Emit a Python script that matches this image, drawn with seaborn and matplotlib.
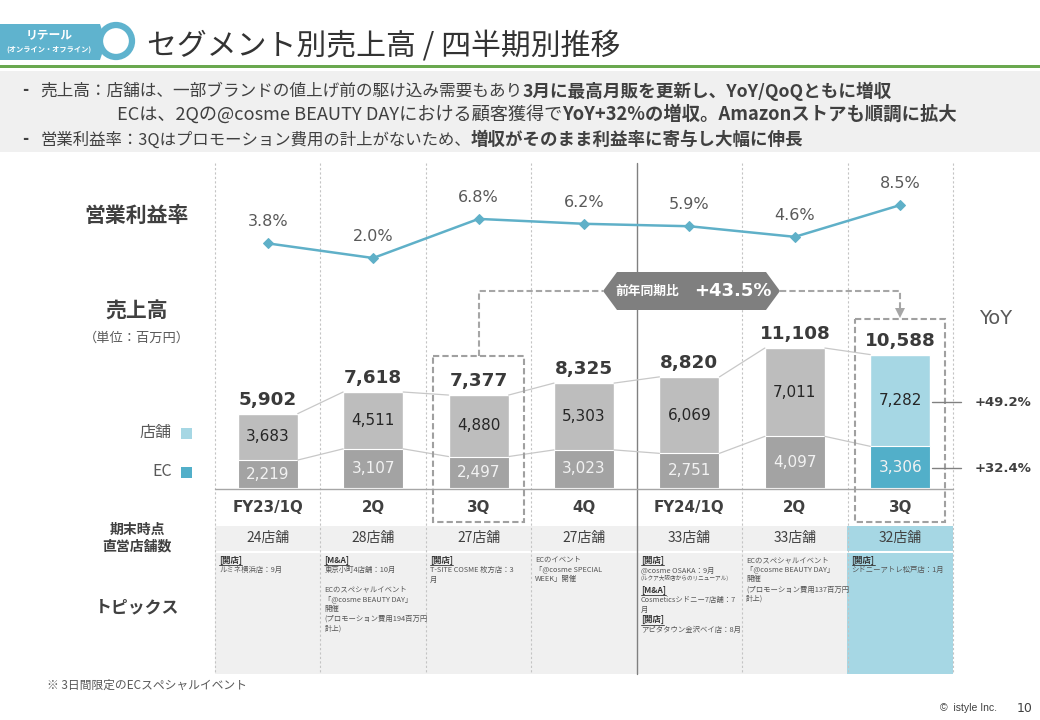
import matplotlib
matplotlib.use("Agg")
import matplotlib.pyplot as plt
import numpy as np
import pandas as pd
import seaborn as sns
from matplotlib.patches import Circle, Polygon, Rectangle

W, H = 1040, 720
JP = ["Noto Sans CJK JP", "DejaVu Sans"]
NUM = ["DejaVu Sans", "Noto Sans CJK JP"]

periods = ["FY23/1Q", "2Q", "3Q", "4Q", "FY24/1Q", "2Q", "3Q"]
store_sales = [3683, 4511, 4880, 5303, 6069, 7011, 7282]
ec_sales = [2219, 3107, 2497, 3023, 2751, 4097, 3306]
total_sales = [5902, 7618, 7377, 8325, 8820, 11108, 10588]
op_margin = [3.8, 2.0, 6.8, 6.2, 5.9, 4.6, 8.5]
store_counts = [24, 28, 27, 27, 33, 33, 32]
yoy_labels = ["+49.2%", "+32.4%"]

store_colors = ["#bdbdbd"] * 6 + ["#a6d7e4"]
ec_colors = ["#a3a3a3"] * 6 + ["#52afc9"]
LINE_BLUE = "#5fb0c8"
TEXT = "#404040"

# [H] = 下線つき見出し、[S] = 小さい注記
topics = [
    ["[H][開店]", "ルミネ横浜店：9月"],
    ["[H][M&A]", "東京小町4店舗：10月", "", "ECのスペシャルイベント", "「@cosme BEAUTY DAY」", "開催",
     "(プロモーション費用194百万円", "計上)"],
    ["[H][開店]", "T-SITE COSME 枚方店：3", "月"],
    ["ECのイベント", "「@cosme SPECIAL", "WEEK」開催"],
    ["[H][開店]", "@cosme OSAKA：9月", "[S](ルクア大阪店からのリニューアル)", "[H][M&A]", "Cosmeticsシドニー7店舗：7", "月",
     "[H][開店]", "アピタタウン金沢ベイ店：8月"],
    ["ECのスペシャルイベント", "「@cosme BEAUTY DAY」", "開催", "(プロモーション費用137百万円", "計上)"],
    ["[H][開店]", "シドニーアトレ松戸店：1月"],
]

summary_lines = [
    (40, 91, 12.0, 12.7, "売上高：店舗は、一部ブランドの値上げ前の駆け込み需要もあり", "3月に最高月販を更新し、YoY/QoQともに増収"),
    (117, 114, 13.1, 13.2, "ECは、2Qの@cosme BEAUTY DAYにおける顧客獲得で", "YoY+32%の増収。Amazonストアも順調に拡大"),
    (40, 140, 11.8, 12.6, "営業利益率：3Qはプロモーション費用の計上がないため、", "増収がそのまま利益率に寄与し大幅に伸長"),
]

sns.set_theme(style="white")
plt.rcParams["font.family"] = JP

col_edges = np.linspace(215, 953, 8)


def px_axes(fig, left, top, right, bottom, zorder):
    ax = fig.add_axes([left / W, 1 - bottom / H, (right - left) / W, (bottom - top) / H], zorder=zorder)
    ax.patch.set_alpha(0)
    return ax


def seq_text(ax, x, y, parts, color=TEXT):
    # 通常と太字を続けて並べる
    r = ax.figure.canvas.get_renderer()
    for s, weight, size in parts:
        t = ax.text(x, y, s, fontsize=size, fontweight=weight, color=color, va="center", ha="left", family=JP)
        x = ax.transData.inverted().transform(t.get_window_extent(r).get_points())[1][0]
    return x


fig = plt.figure(figsize=(W / 100, H / 100), dpi=100, facecolor="white")

# 背景とレイアウト用(ピクセル座標)
bg = px_axes(fig, 0, 0, W, H, 0)
bg.set_xlim(0, W)
bg.set_ylim(H, 0)
bg.axis("off")

bg.add_patch(Rectangle((0, 65), W, 3, color="#6aa84f", lw=0))
bg.add_patch(Rectangle((0, 71), W, 81, color="#f0f0f0", lw=0))
bg.add_patch(Polygon([(0, 24), (100, 24), (106, 42), (100, 60), (0, 60)], color="#5fb3ce", lw=0))
bg.add_patch(Circle((116, 41), 16, facecolor="white", edgecolor="#5fb3ce", lw=4.5))
bg.text(49, 35, "リテール", color="white", fontsize=8.5, fontweight="bold", ha="center", va="center")
bg.text(49, 49, "(オンライン・オフライン)", color="white", fontsize=5.2, fontweight="bold", ha="center", va="center")
bg.text(147, 46, "セグメント別売上高 / 四半期別推移", fontsize=21.5, color="#333333", va="center", ha="left")

for x, y, size_r, size_b, regular, bold in summary_lines:
    seq_text(bg, x, y, [(regular, "normal", size_r), (bold, "bold", size_b)])
bg.text(22, 90, "-", fontsize=12, fontweight="bold", color=TEXT, va="center")
bg.text(22, 139, "-", fontsize=12, fontweight="bold", color=TEXT, va="center")

# 店舗数の帯とトピックス欄
bg.add_patch(Rectangle((215, 526), 632, 25, color="#f0f0f0", lw=0))
bg.add_patch(Rectangle((215, 553), 632, 121, color="#f0f0f0", lw=0))
bg.add_patch(Rectangle((847, 526), 106, 25, color="#a6d7e4", lw=0))
bg.add_patch(Rectangle((847, 553), 106, 121, color="#a6d7e4", lw=0))

for i, x in enumerate(col_edges):
    if i == 4:
        bg.plot([x, x], [163, 674], color="#808080", lw=1)
    else:
        bg.plot([x, x], [163, 674], color="#c4c4c4", lw=0.8, ls=(0, (2, 2)))
bg.plot([215, 953], [489, 489], color="#a6a6a6", lw=1)

for i, count in enumerate(store_counts):
    cx = (col_edges[i] + col_edges[i + 1]) / 2
    bg.text(cx, 538, f"{count}店舗", fontsize=10, color=TEXT, ha="center", va="center")
    bg.text(cx, 508, periods[i], fontsize=10.8, fontweight="bold", color=TEXT, ha="center", va="center", family=NUM)

r = fig.canvas.get_renderer()
for i, lines in enumerate(topics):
    x = col_edges[i] + 4
    y = 560
    for line in lines:
        if line.startswith("[H]"):
            t = bg.text(x, y, line[3:], fontsize=6, fontweight="bold", color="#333333", va="center")
            w = t.get_window_extent(r).width
            bg.plot([x, x + w], [y + 5, y + 5], color="#333333", lw=0.6)
            y += 10
        elif line.startswith("[S]"):
            bg.text(x, y - 1.5, line[3:], fontsize=4.1, color="#555555", va="center")
            y += 10.5
        else:
            bg.text(x, y, line, fontsize=5.3, color="#555555", va="center")
            y += 9.7

# 左側の見出し
bg.text(137, 215, "営業利益率", fontsize=15, fontweight="bold", color=TEXT, ha="center", va="center")
bg.text(137, 311, "売上高", fontsize=15, fontweight="bold", color=TEXT, ha="center", va="center")
bg.text(137, 338, "（単位：百万円）", fontsize=9.5, color="#595959", ha="center", va="center")
bg.text(172, 433, "店舗", fontsize=11.5, color="#595959", ha="right", va="center")
bg.text(172, 472, "EC", fontsize=11.5, color="#595959", ha="right", va="center")
bg.add_patch(Rectangle((181, 428), 11, 11, color="#a6d7e4", lw=0))
bg.add_patch(Rectangle((181, 467), 11, 11, color="#52afc9", lw=0))
bg.text(137, 530, "期末時点", fontsize=10, fontweight="bold", color=TEXT, ha="center", va="center")
bg.text(137, 547, "直営店舗数", fontsize=10, fontweight="bold", color=TEXT, ha="center", va="center")
bg.text(137, 607, "トピックス", fontsize=12.2, fontweight="bold", color=TEXT, ha="center", va="center")
bg.text(47, 685, "※ 3日間限定のECスペシャルイベント", fontsize=8.5, color="#595959", va="center")
bg.text(940, 708, "©  istyle Inc.", fontsize=7.5, color="#404040", va="center", family=["Liberation Sans"])
bg.text(1017, 709, "10", fontsize=9, color="#404040", va="center", family=NUM)

# 積み上げ棒(合計の棒の手前にECを重ねる)
df = pd.DataFrame({"pos": range(len(periods)), "store": store_sales, "ec": ec_sales, "total": total_sales})
BAR_W = 0.57
ax = px_axes(fig, 215, 163, 953, 488, 1)
sns.barplot(data=df, x="pos", y="total", hue="pos", palette=store_colors, legend=False, width=BAR_W,
            dodge=False, saturation=1, ax=ax)
sns.barplot(data=df, x="pos", y="ec", hue="pos", palette=ec_colors, legend=False, width=BAR_W,
            dodge=False, saturation=1, edgecolor="white", linewidth=0.8, ax=ax)
ax.set_xlim(-0.5, 6.5)
ax.set_ylim(0, 325 / 0.0126)
ax.axis("off")

for i in range(len(df) - 1):
    for col in ["ec", "total"]:
        ax.plot([i + BAR_W / 2, i + 1 - BAR_W / 2], [df[col][i], df[col][i + 1]], color="#c8c8c8", lw=0.9)

for i, row in df.iterrows():
    ax.annotate(f"{row.total:,}", (i, row.total), xytext=(0, 10), textcoords="offset points",
                ha="center", va="center", fontsize=13.2, fontweight="bold", color="#3a3a3a", family=NUM)
    ax.text(i, row.ec + row.store / 2, f"{row.store:,}", ha="center", va="center", fontsize=11,
            color="#262626", family=NUM)
    ax.text(i, row.ec / 2, f"{row.ec:,}", ha="center", va="center", fontsize=11, color="#f2f2f2", family=NUM)

# 営業利益率の折れ線
ax2 = px_axes(fig, 215, 163, 953, 300, 2)
sns.lineplot(x=df["pos"], y=op_margin, color=LINE_BLUE, lw=1.8, marker="D", markersize=5.5,
             markeredgecolor=LINE_BLUE, ax=ax2)
ax2.set_xlim(-0.5, 6.5)
ax2.set_ylim(-3.15, 13.66)
ax2.axis("off")
for i, v in enumerate(op_margin):
    ax2.annotate(f"{v}%", (i, v), xytext=(0, 15.5), textcoords="offset points", ha="center", va="center",
                 fontsize=11.5, color="#595959", family=NUM)

# 前年同期比の吹き出しと点線枠
top = px_axes(fig, 0, 0, W, H, 3)
top.set_xlim(0, W)
top.set_ylim(H, 0)
top.axis("off")
dash = (0, (3, 1.5))
for x0, y0, x1, y1 in [(433, 356, 524, 522), (855, 319, 945, 522)]:
    top.add_patch(Rectangle((x0, y0), x1 - x0, y1 - y0, fill=False, edgecolor="#a0a0a0", lw=1.5, ls=dash))
top.plot([479, 479, 603], [356, 291, 291], color="#a6a6a6", lw=1.5, ls=dash)
top.plot([780, 900, 900], [291, 291, 310], color="#a6a6a6", lw=1.5, ls=dash)
top.add_patch(Polygon([(895, 308), (905, 308), (900, 318)], color="#a6a6a6", lw=0))
top.add_patch(Polygon([(603, 291), (617, 272), (766, 272), (780, 291), (766, 310), (617, 310)],
                      color="#7f7f7f", lw=0))
top.text(647, 291, "前年同期比", fontsize=9.2, fontweight="bold", color="white", ha="center", va="center")
top.text(733, 291, "+43.5%", fontsize=13, fontweight="bold", color="white", ha="center", va="center", family=NUM)

top.text(996, 319, "YoY", fontsize=14, color="#595959", ha="center", va="center", family=NUM)
for y, label in zip([402, 468], yoy_labels):
    top.plot([932, 961], [y, y], color="#808080", lw=1)
    top.text(1003, y, label, fontsize=9.5, fontweight="bold", color=TEXT, ha="center", va="center", family=NUM)

fig.savefig("out.png", dpi=100)
